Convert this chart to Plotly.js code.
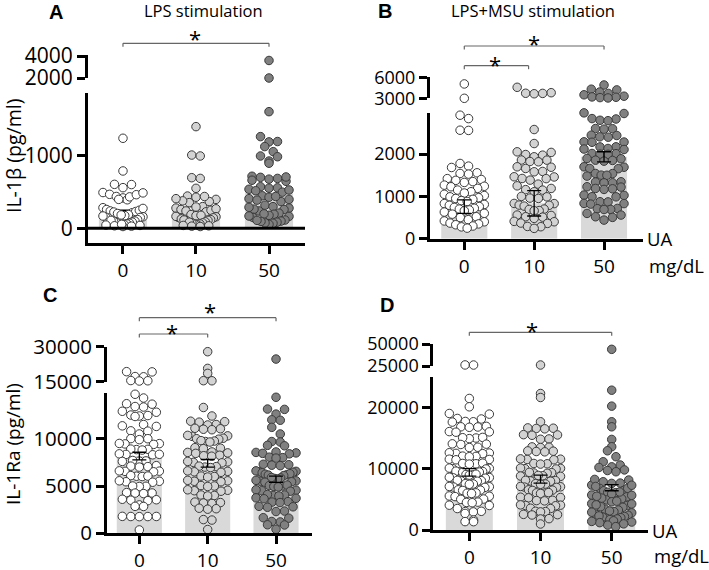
<!DOCTYPE html>
<html>
<head>
<meta charset="utf-8">
<script src="https://cdn.plot.ly/plotly-3.0.1.min.js"></script>
<style>
  html, body { margin: 0; padding: 0; background: #fff; }
  #chart { width: 709px; height: 570px; }
</style>
</head>
<body>
<div id="chart"></div>
<script>
// UA 농도별 IL-1β / IL-1Ra — 4 패널 스캐터 + 막대 (broken y axis)
const CATS = ['0', '10', '50'];
const FILLS = ['#ffffff', '#d3d3d3', '#808080'];

// A: IL-1β, LPS
const A_0 = [1245, 793, 608, 605, 562, 495, 470, 440, 420, 395, 400, 435, 465, 490, 285, 260, 240, 225, 205, 215, 232, 250, 275, 190, 175, 160, 150, 145, 155, 170, 185, 120, 100, 85, 70, 60, 65, 80, 95, 110, 50, 40, 30, 25, 35, 45, 55];
const A_10 = [1406, 1013, 1000, 700, 690, 553, 446, 430, 400, 370, 355, 380, 410, 440, 300, 280, 260, 240, 228, 250, 270, 295, 190, 175, 160, 145, 150, 165, 180, 130, 120, 110, 105, 115, 90, 75, 60, 48, 55, 70, 85, 40, 30, 25, 35];
const A_50 = [3600, 2000, 1613, 1268, 1200, 1195, 1130, 1060, 1000, 990, 930, 900, 720, 705, 690, 665, 650, 680, 710, 575, 560, 540, 520, 500, 530, 555, 450, 430, 410, 390, 370, 400, 440, 320, 300, 280, 260, 240, 265, 290, 210, 195, 180, 165, 150, 170, 200, 115, 100, 85, 70, 55, 75, 95, 110];
const A_MEAN = [220, 260, 500];
const A_ERR = [30, 40, 70];

// B: IL-1β, LPS+MSU
const B_0 = [5050, 3000, 2920, 2840, 2565, 2560, 1779, 1716, 1684, 1558, 1542, 1527, 1420, 1400, 1350, 1330, 1380, 1267, 1240, 1228, 1190, 1150, 1110, 1080, 1050, 1020, 990, 970, 950, 930, 900, 880, 830, 810, 790, 760, 740, 720, 700, 680, 660, 630, 600, 580, 520, 500, 450, 420, 400, 370, 350, 330, 300, 280, 250];
const B_10 = [4571, 3800, 3720, 3700, 3650, 2581, 2250, 2054, 2040, 1990, 1975, 1936, 1860, 1857, 1825, 1818, 1700, 1690, 1660, 1590, 1582, 1464, 1460, 1424, 1420, 1385, 1290, 1250, 1188, 1160, 1149, 1110, 1000, 990, 960, 952, 834, 830, 795, 790, 771, 700, 692, 665, 661, 559, 550, 519, 510, 480, 410, 401, 370, 362, 290, 283, 244];
const B_50 = [4900, 4300, 4200, 3900, 3700, 3500, 3300, 3200, 3150, 3100, 3050, 2975, 2960, 2840, 2830, 2800, 2790, 2605, 2600, 2590, 2447, 2440, 2408, 2400, 2290, 2285, 2280, 2172, 2170, 2133, 2120, 2109, 2015, 2010, 1999, 1995, 1897, 1890, 1857, 1850, 1834, 1700, 1690, 1660, 1655, 1542, 1540, 1503, 1500, 1480, 1346, 1340, 1322, 1320, 1228, 1220, 1188, 1180, 1165, 1031, 1025, 992, 990, 874, 870, 834, 830, 818, 716, 710, 692, 690, 598, 559, 519, 504, 440];
const B_MEAN = [757, 837, 1936];
const B_ERR = [160, 300, 120];

// C: IL-1Ra, LPS
const C_0 = [19300, 19200, 17200, 17100, 15500, 15400, 15300, 14700, 14300, 13700, 13650, 13400, 13350, 12900, 12800, 12500, 12450, 12400, 12350, 11500, 11360, 11300, 10830, 10800, 10500, 10010, 10000, 9900, 9480, 9450, 9400, 9500, 8875, 8850, 8800, 8900, 8340, 8300, 8350, 8400, 7630, 7600, 7650, 7700, 7100, 7150, 7050, 7000, 6570, 6550, 6600, 6500, 6035, 6000, 6100, 6050, 5500, 5450, 5550, 5400, 4970, 4950, 5000, 4260, 4200, 4300, 4250, 3550, 3500, 3600, 3450, 3000, 2840, 2850, 1775, 1780, 1770, 1790, 1760, 355];
const C_10 = [27860, 20700, 18570, 15430, 15400, 13300, 12400, 11800, 11850, 11750, 11500, 11450, 11000, 11050, 10950, 11100, 10300, 10250, 10350, 10000, 10050, 9950, 9700, 9750, 9650, 9800, 9000, 9050, 8950, 8500, 8550, 8450, 8600, 8200, 8250, 8150, 7500, 7550, 7450, 7600, 7000, 7050, 6950, 7100, 6500, 6550, 6450, 6600, 6000, 6050, 5950, 5500, 5550, 5450, 5600, 5000, 5050, 4950, 4500, 4550, 4450, 4600, 4000, 4050, 3950, 3200, 3250, 3150, 3300, 2600, 2650, 2550, 1400, 1450, 400];
const C_50 = [24700, 14380, 13135, 13100, 12600, 12000, 11950, 11200, 10500, 9700, 9650, 9300, 9250, 8500, 8550, 8450, 8600, 8400, 8000, 8050, 7950, 7200, 7250, 7150, 7300, 6500, 6550, 6450, 6600, 6400, 6200, 6250, 6150, 6300, 6100, 5800, 5850, 5750, 5900, 5500, 5550, 5450, 5600, 5400, 5000, 5050, 4950, 5100, 4900, 4500, 4550, 4450, 4600, 4000, 4050, 3950, 4100, 3700, 3750, 3650, 3300, 3350, 3250, 2800, 2850, 2750, 2300, 2350, 1600, 1650, 1200, 1250, 900, 880, 426];
const C_MEAN = [8170, 7400, 5710];
const C_ERR = [400, 400, 330];

// D: IL-1Ra, LPS+MSU
const D_0 = [26200, 26100, 21450, 20090, 19000, 18900, 18190, 18100, 17650, 17600, 17700, 16830, 16800, 16900, 16750, 16000, 16050, 15950, 15000, 15100, 14900, 15050, 14000, 14050, 13950, 13500, 13450, 12500, 12550, 12450, 12600, 12000, 12050, 11950, 11500, 11550, 11450, 10800, 10850, 10750, 10900, 10000, 10050, 9950, 10100, 9500, 9550, 9450, 9600, 9400, 9000, 9050, 8950, 9100, 8500, 8550, 8450, 8600, 8000, 8050, 7950, 8100, 7500, 7550, 7450, 7000, 7050, 6950, 7100, 6500, 6550, 6450, 6000, 6050, 5950, 5500, 5550, 5450, 5000, 5050, 4500, 4550, 4450, 4000, 4050, 3500, 3000, 3050, 2950, 2700, 1630, 1360, 1370];
const D_10 = [26140, 22260, 21610, 17650, 16560, 16600, 16500, 16650, 15500, 15550, 15450, 14800, 14850, 13500, 13550, 13450, 12800, 12850, 12750, 12900, 11500, 11550, 11450, 11600, 10800, 10850, 10750, 10000, 10050, 9950, 10100, 9300, 9350, 9250, 9400, 8800, 8850, 8750, 8900, 8000, 8050, 7950, 8100, 7500, 7550, 7450, 7000, 7050, 6950, 7100, 6500, 6550, 6450, 6000, 6050, 5950, 6100, 5300, 5350, 5250, 4800, 4850, 4750, 4000, 4050, 3950, 4100, 3500, 3550, 3000, 3050, 2950, 2500, 2550, 2450, 1800, 1850, 980];
const D_50 = [43940, 22800, 20200, 17650, 16830, 14770, 13575, 12920, 11950, 11130, 10600, 10300, 9800, 9500, 9700, 10200, 8150, 7600, 7330, 7650, 7870, 8250, 6790, 6400, 6080, 6150, 6450, 6800, 5700, 5400, 5100, 4900, 5200, 5500, 5650, 4300, 4000, 3700, 3400, 3800, 4100, 4250, 3260, 3000, 2800, 2600, 2900, 3100, 2400, 2200, 2000, 1800, 1900, 2100, 2300, 1700, 1500, 1300, 1000, 800, 550, 1200, 1400, 7100, 7300, 6200, 5900, 4600, 4700];
const D_MEAN = [9400, 8300, 6900];
const D_ERR = [600, 650, 500];

const W = 709, H = 570;
const FONT = 'Open Sans, Lato, sans-serif';

// 패널 배치 (px 단위, 위쪽 기준)
const PANELS = [
  { groups: [A_0, A_10, A_50], mean: A_MEAN, err: A_ERR, fs: 21, zero: true, errBelow: true,
    xa: [88, 305], xr: [-0.479, 2.493],
    lo: { dom: [93, 243], r: [-203, 1871], ticks: [0, 1000] },
    hi: { dom: [55, 78], r: [2000, 4100], ticks: [2000, 4000] } },
  { groups: [B_0, B_10, B_50], mean: B_MEAN, err: B_ERR, fs: 18,
    xa: [430, 643], xr: [-0.491, 2.558],
    lo: { dom: [112.7, 238.7], r: [0, 2979], ticks: [0, 1000, 2000] },
    hi: { dom: [77.3, 98.3], r: [3000, 6000], ticks: [3000, 6000] } },
  { groups: [C_0, C_10, C_50], mean: C_MEAN, err: C_ERR, fs: 20.5,
    xa: [107, 311.7], xr: [-0.473, 2.522],
    lo: { dom: [393.3, 533.3], r: [0, 14800], ticks: [0, 5000, 10000] },
    hi: { dom: [346.7, 381.7], r: [15000, 30000], ticks: [15000, 30000] } },
  { groups: [D_0, D_10, D_50], mean: D_MEAN, err: D_ERR, fs: 18,
    xa: [433.3, 648.3], xr: [-0.506, 2.514],
    lo: { dom: [376.7, 530], r: [0, 25000], ticks: [0, 10000, 20000] },
    hi: { dom: [344, 366], r: [25000, 50000], ticks: [25000, 50000] } },
];

function valToPx(p, v) {
  const seg = v > p.lo.r[1] ? p.hi : p.lo;
  const [top, bot] = seg.dom;
  return bot - (v - seg.r[0]) / (seg.r[1] - seg.r[0]) * (bot - top);
}

// GraphPad 식 행 배치: 값 구간별로 가운데부터 바깥으로
function swarmOffsets(p, vals) {
  const rowH = 9, maxW = 40, gap = 8.5;
  const bottom = p.lo.dom[1];
  const rows = {};
  vals.forEach((v, i) => {
    const k = Math.floor((bottom - valToPx(p, v)) / rowH);
    (rows[k] = rows[k] || []).push(i);
  });
  const off = new Array(vals.length).fill(0);
  Object.values(rows).forEach(idx => {
    idx.sort((a, b) => vals[a] - vals[b]);
    const n = idx.length;
    const s = n > 1 ? Math.min(gap, maxW / (n - 1)) : 0;
    const slots = [];
    for (let j = 0; j < n; j++) slots.push((j - (n - 1) / 2) * s);
    slots.sort((a, b) => Math.abs(a) - Math.abs(b) || b - a);
    idx.forEach((i, j) => { off[i] = slots[j]; });
  });
  return off;
}

const traces = [];
const layout = {
  width: W, height: H,
  margin: { l: 0, r: 0, t: 0, b: 0 },
  paper_bgcolor: '#fff', plot_bgcolor: 'rgba(0,0,0,0)',
  showlegend: false,
  font: { family: FONT, color: '#000' },
  annotations: [], shapes: [],
};

const axisBase = {
  showline: true, linewidth: 3, linecolor: '#000',
  ticks: 'outside', ticklen: 8, tickwidth: 3, tickcolor: '#000',
  showgrid: false, zeroline: false, fixedrange: true,
};

PANELS.forEach((p, k) => {
  const xn = k + 1, yl = 2 * k + 1, yu = 2 * k + 2;
  const xName = xn === 1 ? 'x' : 'x' + xn;
  const ylName = yl === 1 ? 'y' : 'y' + yl;
  const yuName = 'y' + yu;
  const xKey = xn === 1 ? 'xaxis' : 'xaxis' + xn;
  const ylKey = yl === 1 ? 'yaxis' : 'yaxis' + yl;

  layout[xKey] = Object.assign({}, axisBase, {
    domain: [p.xa[0] / W, p.xa[1] / W], range: p.xr, anchor: ylName,
    tickvals: [0, 1, 2], ticktext: CATS, tickfont: { size: 19 }, ticklabelstandoff: 0,
  });
  layout[ylKey] = Object.assign({}, axisBase, {
    domain: [1 - p.lo.dom[1] / H, 1 - p.lo.dom[0] / H], range: p.lo.r, anchor: xName,
    tickvals: p.lo.ticks, ticktext: p.lo.ticks.map(String), tickfont: { size: p.fs },
  });
  layout['yaxis' + yu] = Object.assign({}, axisBase, {
    domain: [1 - p.hi.dom[1] / H, 1 - p.hi.dom[0] / H], range: p.hi.r, anchor: xName,
    tickvals: p.hi.ticks, ticktext: p.hi.ticks.map(String), tickfont: { size: p.fs },
  });

  // A 패널: 0 기준선
  if (p.zero) {
    layout.shapes.push({ type: 'line', xref: 'paper', yref: ylName,
      x0: p.xa[0] / W, x1: p.xa[1] / W, y0: 0, y1: 0, line: { color: '#000', width: 3 } });
  }

  traces.push({
    type: 'bar', x: [0, 1, 2], y: p.mean, width: 0.66,
    marker: { color: '#d9d9d9' }, xaxis: xName, yaxis: ylName, hoverinfo: 'skip',
  });

  const errTrace = {
    type: 'scatter', mode: 'markers', x: [0, 1, 2], y: p.mean,
    marker: { size: 1, opacity: 0 }, xaxis: xName, yaxis: ylName,
    error_y: { type: 'data', array: p.err, visible: true, color: '#000', thickness: 1.3, width: 7 },
  };
  if (p.errBelow) traces.push(errTrace);

  const pxPerUnit = (p.xa[1] - p.xa[0]) / (p.xr[1] - p.xr[0]);
  p.groups.forEach((vals, g) => {
    const off = swarmOffsets(p, vals);
    const lo = { x: [], y: [] }, hi = { x: [], y: [] };
    vals.forEach((v, i) => {
      const t = v > p.lo.r[1] ? hi : lo;
      t.x.push(g + off[i] / pxPerUnit);
      t.y.push(v);
    });
    const mk = { size: 8.5, color: FILLS[g], line: { color: '#3a3a3a', width: 1 } };
    traces.push({ type: 'scatter', mode: 'markers', x: lo.x, y: lo.y, marker: mk,
      xaxis: xName, yaxis: ylName, cliponaxis: false });
    traces.push({ type: 'scatter', mode: 'markers', x: hi.x, y: hi.y, marker: mk,
      xaxis: xName, yaxis: yuName, cliponaxis: false });
  });

  if (!p.errBelow) traces.push(errTrace);
});

// 유의성 브래킷
function bracket(xref, x0, x1, ypx) {
  const y = 1 - ypx / H, y2 = 1 - (ypx + 3.5) / H;
  const line = { color: '#666', width: 1.2 };
  layout.shapes.push({ type: 'line', xref, yref: 'paper', x0, x1, y0: y, y1: y, line });
  layout.shapes.push({ type: 'line', xref, yref: 'paper', x0, x1: x0, y0: y, y1: y2, line });
  layout.shapes.push({ type: 'line', xref, yref: 'paper', x0: x1, x1, y0: y, y1: y2, line });
}
bracket('x', 0, 2, 43.3);
bracket('x2', 0, 2, 46);
bracket('x2', 0, 0.92, 65.7);
bracket('x3', 0, 2, 317.7);
bracket('x3', 0, 1, 334);
bracket('x4', 0, 2, 332.3);

function note(text, xpx, ypx, size, extra) {
  layout.annotations.push(Object.assign({
    text, xref: 'paper', yref: 'paper', x: xpx / W, y: 1 - ypx / H,
    xanchor: 'center', yanchor: 'middle', showarrow: false,
    font: { size, family: FONT, color: '#000' },
  }, extra || {}));
}
const bold = f => ({ font: { size: f, family: 'Liberation Sans, Arial, sans-serif', color: '#000' } });
note('<b>A</b>', 56, 12, 20, bold(20));
note('<b>B</b>', 385, 11, 20, bold(20));
note('<b>C</b>', 50, 295, 20, bold(20));
note('<b>D</b>', 387, 305, 20, bold(20));
note('LPS stimulation', 203, 11, 16.5);
note('LPS+MSU stimulation', 533, 10, 16.5);
note('IL-1β (pg/ml)', 14, 156, 19.5, { textangle: -90 });
note('IL-1Ra (pg/ml)', 13, 444, 19, { textangle: -90 });
note('*', 195, 38, 22);
note('*', 534, 43, 22);
note('*', 495, 63.5, 22);
note('*', 210, 311, 22);
note('*', 172, 332, 22);
note('*', 532, 329.5, 22);
note('UA', 659, 239, 18.5);
note('mg/dL', 676, 265, 18.5);
note('UA', 664, 530, 18.5);
note('mg/dL', 681, 555, 18.5);

Plotly.newPlot('chart', traces, layout, { displayModeBar: false, staticPlot: true });
</script>
</body>
</html>
